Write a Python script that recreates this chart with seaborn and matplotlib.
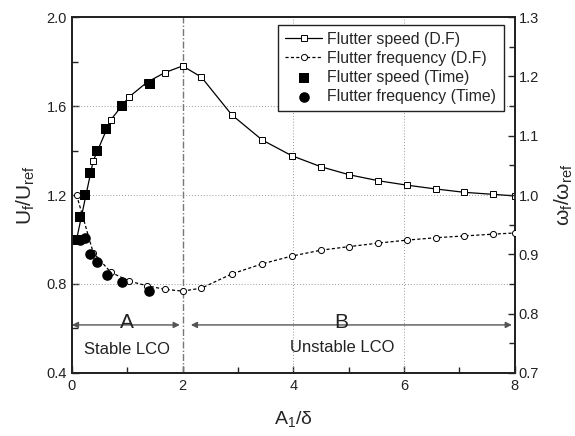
import numpy as np
import pandas as pd
import matplotlib
matplotlib.use("Agg")
import matplotlib.pyplot as plt
import seaborn as sns

# ---- data ----
df_x = [0.085, 0.385, 0.70, 1.03, 1.36, 1.68, 2.00, 2.34, 2.89, 3.44, 3.97, 4.50,
        5.01, 5.54, 6.06, 6.58, 7.09, 7.61, 8.00]
speed_df = [1.00, 1.353, 1.537, 1.64, 1.707, 1.75, 1.78, 1.73, 1.56, 1.447, 1.377,
            1.327, 1.291, 1.264, 1.244, 1.227, 1.212, 1.203, 1.196]
freq_df = [1.00, 0.903, 0.870, 0.855, 0.847, 0.841, 0.838, 0.843, 0.867, 0.884,
           0.897, 0.907, 0.913, 0.919, 0.924, 0.928, 0.931, 0.934, 0.936]
speed_t_x = [0.08, 0.15, 0.23, 0.32, 0.45, 0.625, 0.90, 1.41]
speed_t = [1.00, 1.10, 1.20, 1.30, 1.40, 1.497, 1.60, 1.70]
freq_t_x = [0.15, 0.23, 0.32, 0.45, 0.63, 0.91, 1.40]
freq_t = [0.925, 0.927, 0.900, 0.887, 0.866, 0.853, 0.838]

xticks = [0, 2, 4, 6, 8]
yticks_left = [0.4, 0.8, 1.2, 1.6, 2.0]
yticks_right = [0.7, 0.8, 0.9, 1.0, 1.1, 1.2, 1.3]

sns.set_style("ticks")
plt.rcParams['font.family'] = ['Liberation Sans', 'DejaVu Sans']
plt.rcParams['mathtext.fontset'] = 'custom'
plt.rcParams['mathtext.rm'] = 'Liberation Sans'
plt.rcParams['mathtext.it'] = 'Liberation Sans:italic'

fig = plt.figure(figsize=(5.75, 4.36), dpi=100)
ax = fig.add_axes([0.125, 0.1445, 0.77, 0.8165])
ax2 = ax.twinx()

d1 = pd.DataFrame({"x": df_x, "s": speed_df, "f": freq_df})
d2 = pd.DataFrame({"x": speed_t_x, "s": speed_t})
d3 = pd.DataFrame({"x": freq_t_x, "f": freq_t})

k = 'k'
sns.lineplot(data=d1, x="x", y="s", ax=ax, color=k, lw=0.9, marker='s',
             markersize=4.2, markerfacecolor='white', markeredgecolor=k,
             markeredgewidth=0.7, label='Flutter speed (D.F)', legend=False,
             sort=False, zorder=3)
sns.scatterplot(data=d2, x="x", y="s", ax=ax, color=k, marker='s', s=44,
                edgecolor=k, linewidth=0, label='Flutter speed (Time)',
                legend=False, zorder=4)
sns.lineplot(data=d1, x="x", y="f", ax=ax2, color=k, lw=0.9, ls=(0, (2.5, 1.8)),
             marker='o', markersize=4.4, markerfacecolor='white',
             markeredgecolor=k, markeredgewidth=0.7,
             label='Flutter frequency (D.F)', legend=False, sort=False, zorder=3)
sns.scatterplot(data=d3, x="x", y="f", ax=ax2, color=k, marker='o', s=58,
                edgecolor=k, linewidth=0, label='Flutter frequency (Time)',
                legend=False, zorder=4)

ax.set_xlim(0, 8)
ax.set_ylim(0.4, 2.0)
ax2.set_ylim(0.7, 1.3)
ax.set_xticks(xticks)
ax.set_xticks([1, 3, 5, 7], minor=True)
ax.set_yticks(yticks_left)
ax.set_yticklabels([f"{v:.1f}" for v in yticks_left])
ax.set_yticks([0.6, 1.0, 1.4, 1.8], minor=True)
ax2.set_yticks(yticks_right)
ax2.set_yticklabels([f"{v:.1f}" for v in yticks_right])
ax2.set_yticks([0.75, 0.85, 0.95, 1.05, 1.15, 1.25], minor=True)

for a in (ax, ax2):
    a.tick_params(which='both', direction='in', labelsize=10.5, colors='#222',
                  width=1.0)
    a.tick_params(which='major', length=5)
    a.tick_params(which='minor', length=4)
    for sp in a.spines.values():
        sp.set_linewidth(1.3)
        sp.set_color('#222')
ax.tick_params(axis='x', pad=4)
ax2.tick_params(axis='y', pad=3)

# grid
for gx in [4, 6]:
    ax.axvline(gx, color='#999999', lw=0.7, ls=(0, (1, 2)), zorder=1)
for gy in [0.8, 1.2, 1.6]:
    ax.axhline(gy, color='#999999', lw=0.7, ls=(0, (1, 2)), zorder=1)
ax.axvline(2, color='#777777', lw=1.0, ls=(0, (5, 1.5, 1, 1.5)), zorder=1)

ax.set_xlabel(r'$\mathrm{A_1/\delta}$', fontsize=14, labelpad=12)
ax.set_ylabel(r'$\mathrm{U_f/U_{ref}}$', fontsize=15, va='center')
ax.yaxis.set_label_coords(-0.105, 0.5)
ax2.set_ylabel(r'$\mathrm{\omega_f/\omega_{ref}}$', fontsize=15,
               rotation=90, va='center', ha='center')
ax2.yaxis.set_label_coords(1.112, 0.5)

# annotations
ap = dict(arrowstyle='<|-|>', color='#555555', lw=1.0, shrinkA=0, shrinkB=0,
          mutation_scale=9)
ax.annotate('', xy=(0.0, 0.616), xytext=(1.95, 0.616), arrowprops=ap)
ax.annotate('', xy=(2.15, 0.616), xytext=(7.95, 0.616), arrowprops=ap)
ax.text(0.99, 0.625, 'A', fontsize=15, ha='center', va='center', color='#222')
ax.text(4.86, 0.625, 'B', fontsize=15, ha='center', va='center', color='#222')
ax.text(0.99, 0.505, 'Stable LCO', fontsize=12, ha='center', va='center', color='#222')
ax.text(4.88, 0.515, 'Unstable LCO', fontsize=12, ha='center', va='center', color='#222')

# legend
h1, l1 = ax.get_legend_handles_labels()
h2, l2 = ax2.get_legend_handles_labels()
hd = dict(zip(l1 + l2, h1 + h2))
order = ['Flutter speed (D.F)', 'Flutter frequency (D.F)',
         'Flutter speed (Time)', 'Flutter frequency (Time)']
leg = ax2.legend([hd[o] for o in order], order, loc='upper right',
                 bbox_to_anchor=(0.975, 0.978), fontsize=11.4, frameon=True,
                 fancybox=False, edgecolor='#222', framealpha=1,
                 handlelength=2.3, labelspacing=0.25, borderpad=0.45,
                 handletextpad=0.35, borderaxespad=0)
leg.get_frame().set_linewidth(1.0)

fig.savefig('out.png', dpi=100)
